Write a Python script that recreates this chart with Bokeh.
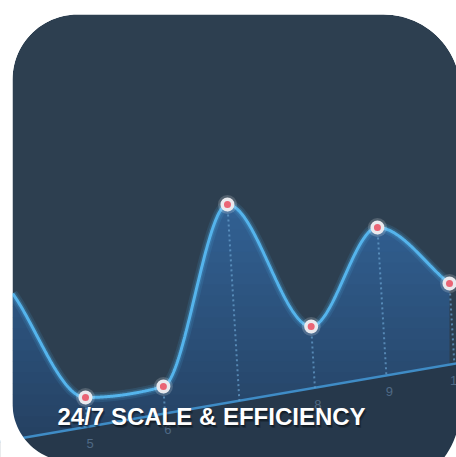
import numpy as np
from bokeh.plotting import figure
from bokeh.models import Range1d, Label
from bokeh.core.properties import value
from bokeh.embed import file_html
from bokeh.resources import INLINE

# ---------------- data ----------------
x_pos = [4.0, 5.0, 6.07, 6.95, 8.10, 9.01, 10.0]
values = [39.0, 13.0, 15.75, 61.25, 30.75, 55.5, 41.5]
tick_x = [5.0, 6.07, 6.95, 8.10, 9.01, 10.0]
tick_labels = ["5", "6", "7", "8", "9", "10"]
axis_start_value = 2.45     # value of the tilted base axis at x = 4
axis_rise = 3.13            # rise of the tilted base axis per x unit
title_text = "24/7 SCALE & EFFICIENCY"

# ---------------- layout / style constants ----------------
W, H = 456, 457
PXX, PXY = 72.8, 4.0
X_MIN = 4 - 12.2 / PXX
X_MAX = X_MIN + W / PXX
Y_MAX = 449 / PXY
Y_MIN = Y_MAX - H / PXY
SHEAR = 0.06  # horizontal lean of the drop lines (px per px)


def wx(px):  # window pixel -> data x
    return X_MIN + px / PXX


def wy(py):  # window pixel -> data y
    return Y_MAX - py / PXY


def base(x):
    return axis_start_value + axis_rise * (np.asarray(x) - x_pos[0])


def monotone(xs, ys, n=600):
    xs = np.asarray(xs, float)
    ys = np.asarray(ys, float)
    h = np.diff(xs)
    d = np.diff(ys) / h
    m = np.zeros_like(ys)
    m[0], m[-1] = d[0], d[-1]
    for k in range(1, len(xs) - 1):
        if d[k - 1] * d[k] <= 0:
            m[k] = 0.0
        else:
            w1 = 2 * h[k] + h[k - 1]
            w2 = h[k] + 2 * h[k - 1]
            m[k] = (w1 + w2) / (w1 / d[k - 1] + w2 / d[k])
    xx = np.linspace(xs[0], xs[-1], n)
    idx = np.clip(np.searchsorted(xs, xx) - 1, 0, len(xs) - 2)
    t = (xx - xs[idx]) / h[idx]
    h00 = 2 * t**3 - 3 * t**2 + 1
    h10 = t**3 - 2 * t**2 + t
    h01 = -2 * t**3 + 3 * t**2
    h11 = t**3 - t**2
    yy = (h00 * ys[idx] + h10 * h[idx] * m[idx] + h01 * ys[idx + 1]
          + h11 * h[idx] * m[idx + 1])
    return xx, yy


p = figure(width=W, height=H, x_range=Range1d(X_MIN, X_MAX),
           y_range=Range1d(Y_MIN, Y_MAX), output_backend="svg",
           toolbar_location=None, min_border=0,
           x_axis_location=None, y_axis_location=None)
p.grid.visible = False
p.outline_line_color = None
p.background_fill_color = "white"
p.border_fill_color = "white"

# ---------------- rounded card outline (corner centre, radius, start angle) ----
corners = [(383, 91, 77, -90),    # top-right
           (375, 407, 85, 0),     # bottom-right
           (70, 403, 58, 90),     # bottom-left
           (77, 79, 65, 180)]     # top-left
cx, cy = [], []
for (ccx, ccy, rad, a0) in corners:
    for a in np.linspace(a0, a0 + 90, 28):
        r = np.radians(a)
        cx.append(wx(ccx + rad * np.cos(r)))
        cy.append(wy(ccy + rad * np.sin(r)))
p.patch(cx, cy, fill_color="#2d3f50", line_color=None)

# darker region under the base axis
bx = np.linspace(X_MIN, X_MAX, 50)
p.varea(x=bx, y1=np.full_like(bx, Y_MIN), y2=base(bx),
        fill_color="#24374a", fill_alpha=0.8)

# ---------------- gradient area ----------------
xx, yy = monotone(x_pos, values)
lo = base(xx)
hi = np.maximum(yy, lo)
levels = np.linspace(0, 66, 25)
c_bot = np.array([37, 64, 96])
c_top = np.array([51, 100, 152])
for k in range(len(levels) - 1):
    f = (levels[k] + levels[k + 1]) / 2 / 66
    c = (c_bot + (c_top - c_bot) * f).astype(int)
    col = "#%02x%02x%02x" % tuple(c)
    y1 = np.clip(levels[k], lo, hi)
    y2 = np.clip(levels[k + 1] + 0.15, lo, hi)
    p.varea(x=xx, y1=y1, y2=y2, fill_color=col)

# base axis line
ax = np.array([X_MIN, X_MAX])
p.line(ax, base(ax), line_color="#3f8cc6", line_width=2.5)

# drop lines
for xi, vi in zip(x_pos[1:], values[1:]):
    drop_px = (vi - float(base(xi))) * PXY
    xb = xi + SHEAR * drop_px / PXX
    p.line([xi, xb], [vi, float(base(xb))], line_color="#6aa2d0",
           line_alpha=0.7, line_width=2, line_dash="2 3")

# tick labels
lab_x = [xi + SHEAR * (v - float(base(xi))) * PXY / PXX + 0.04
         for xi, v in zip(tick_x, values[1:])]
lab_y = [float(base(x)) - 4.2 for x in lab_x]
p.text(x=lab_x, y=lab_y, text=tick_labels, text_font=value("Liberation Sans"),
       text_font_size="13px", text_color="#4f6985", text_align="center",
       text_baseline="middle")

# curve with glow
p.line(xx, yy, line_color="#4aa8e0", line_width=10, line_alpha=0.15)
p.line(xx, yy, line_color="#4aa8e0", line_width=6, line_alpha=0.25)
p.line(xx, yy, line_color="#55b4ec", line_width=3)

# markers
mx, my = x_pos[1:], values[1:]
p.scatter(mx, my, size=19, fill_color="white", fill_alpha=0.18, line_color=None)
p.scatter(mx, my, size=14, fill_color="#e9e9ee", line_color=None)
p.scatter(mx, my, size=7, fill_color="#ea6475", line_color=None)

# white mask outside the card
ox = [X_MIN - 1, X_MAX + 1, X_MAX + 1, X_MIN - 1]
oy = [Y_MIN - 1, Y_MIN - 1, Y_MAX + 1, Y_MAX + 1]
p.multi_polygons(xs=[[[ox, cx]]], ys=[[[oy, cy]]], fill_color="white",
                 line_color=None)

# title with soft shadow
tx, ty = wx(57), wy(416)
for dx, dy, a in [(1, -2, 0.25), (2, -3, 0.2), (0, -1, 0.25)]:
    p.add_layout(Label(x=tx, y=ty, x_offset=dx, y_offset=dy, text=title_text,
                       text_font="Liberation Sans", text_font_style="bold",
                       text_font_size="24px", text_color="black", text_alpha=a,
                       text_baseline="alphabetic"))
p.add_layout(Label(x=tx, y=ty, text=title_text, text_font="Liberation Sans",
                   text_font_style="bold", text_font_size="24px",
                   text_color="white", text_baseline="alphabetic"))

open("out.html", "w").write(file_html(p, INLINE))
